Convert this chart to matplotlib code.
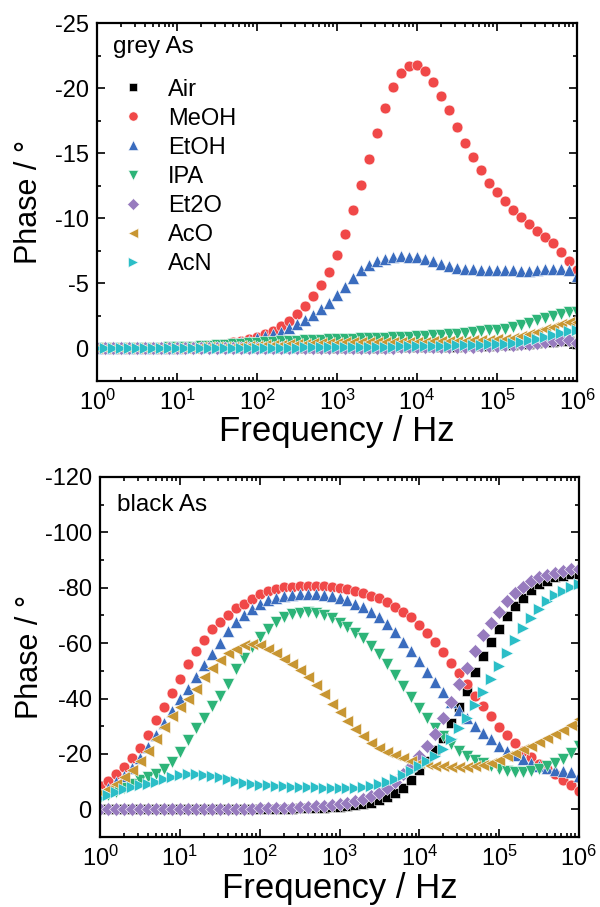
import matplotlib.pyplot as plt
import numpy as np
from matplotlib.ticker import LogLocator, MultipleLocator, NullFormatter

plt.rcParams['font.family'] = ['Liberation Sans', 'DejaVu Sans']
plt.rcParams['axes.unicode_minus'] = False
plt.rcParams['mathtext.fontset'] = 'custom'
plt.rcParams['mathtext.rm'] = 'Liberation Sans'
plt.rcParams['mathtext.default'] = 'regular'

# frequency sweep, 10 points per decade, 1 Hz .. 1 MHz
freq = np.logspace(0, 6, 61)

labels = ['Air', 'MeOH', 'EtOH', 'IPA', 'Et2O', 'AcO', 'AcN']

# grey As: magnitude of phase (deg), plotted as negative phase
grey_air = [0, 0, 0, 0, 0, 0, 0, 0, 0, 0,
            0, 0, 0, 0, 0, 0, 0, 0, 0, 0,
            0, 0, 0, 0, 0, 0.01, 0.01, 0.01, 0.02, 0.02,
            0.02, 0.03, 0.04, 0.05, 0.05, 0.06, 0.07, 0.08, 0.09, 0.1,
            0.1, 0.11, 0.12, 0.13, 0.14, 0.15, 0.16, 0.18, 0.2, 0.22,
            0.24, 0.27, 0.3, 0.34, 0.38, 0.42, 0.47, 0.53, 0.57, 0.55,
            0.38]
grey_meoh = [0.02, 0.02, 0.03, 0.03, 0.03, 0.04, 0.04, 0.05, 0.05, 0.06,
             0.08, 0.1, 0.13, 0.17, 0.22, 0.28, 0.36, 0.46, 0.58, 0.73,
             0.92, 1.12, 1.37, 1.73, 2.14, 2.65, 3.3, 4.0, 4.9, 5.9,
             7.2, 8.8, 10.6, 12.55, 14.55, 16.55, 18.5, 20.1, 21.2, 21.7,
             21.8, 21.3, 20.5, 19.4, 18.3, 17.0, 15.8, 14.7, 13.7, 12.75,
             12.0, 11.3, 10.6, 10.1, 9.6, 9.06, 8.6, 8.1, 7.45, 6.7,
             6.0]
grey_etoh = [0.02, 0.02, 0.02, 0.03, 0.03, 0.03, 0.04, 0.04, 0.05, 0.05,
             0.06, 0.08, 0.1, 0.13, 0.17, 0.22, 0.28, 0.36, 0.47, 0.6,
             0.8, 0.96, 1.12, 1.3, 1.55, 1.86, 2.2, 2.6, 3.0, 3.5,
             4.1, 4.75, 5.4, 6.0, 6.4, 6.7, 6.9, 7.05, 7.1, 7.05,
             7.0, 6.86, 6.7, 6.5, 6.35, 6.2, 6.14, 6.09, 6.04, 6.0,
             6.0, 6.0, 6.0, 5.98, 5.95, 6.05, 6.1, 6.12, 6.1, 6.0,
             5.6]
grey_ipa = [0.02, 0.02, 0.03, 0.03, 0.04, 0.04, 0.05, 0.06, 0.07, 0.08,
            0.1, 0.12, 0.15, 0.18, 0.2, 0.24, 0.28, 0.32, 0.36, 0.4,
            0.44, 0.48, 0.52, 0.55, 0.58, 0.61, 0.64, 0.66, 0.68, 0.7,
            0.72, 0.74, 0.76, 0.78, 0.8, 0.82, 0.84, 0.86, 0.88, 0.9,
            0.93, 0.96, 1.0, 1.04, 1.09, 1.14, 1.2, 1.26, 1.33, 1.4,
            1.45, 1.52, 1.63, 1.78, 1.94, 2.15, 2.35, 2.52, 2.68, 2.78,
            2.8]
grey_et2o = [0, 0, 0, 0, 0, 0, 0, 0, 0, 0,
             0, 0, 0, 0, 0, 0, 0, 0, 0, 0,
             0, 0, 0.01, 0.01, 0.01, 0.02, 0.02, 0.02, 0.03, 0.03,
             0.04, 0.04, 0.05, 0.05, 0.06, 0.06, 0.07, 0.07, 0.08, 0.08,
             0.09, 0.09, 0.1, 0.1, 0.11, 0.12, 0.13, 0.14, 0.16, 0.18,
             0.2, 0.23, 0.27, 0.32, 0.38, 0.45, 0.52, 0.6, 0.65, 0.62,
             0.45]
grey_aco = [0.01, 0.01, 0.01, 0.02, 0.02, 0.02, 0.03, 0.03, 0.04, 0.04,
            0.05, 0.06, 0.07, 0.08, 0.09, 0.1, 0.12, 0.14, 0.16, 0.18,
            0.2, 0.23, 0.27, 0.3, 0.33, 0.35, 0.37, 0.39, 0.41, 0.43,
            0.45, 0.46, 0.47, 0.48, 0.49, 0.5, 0.5, 0.51, 0.51, 0.52,
            0.52, 0.53, 0.54, 0.55, 0.56, 0.58, 0.6, 0.62, 0.65, 0.68,
            0.72, 0.75, 0.82, 0.93, 1.1, 1.28, 1.48, 1.68, 1.86, 2.0,
            2.05]
grey_acn = [0, 0, 0, 0, 0, 0, 0.01, 0.01, 0.01, 0.01,
            0.01, 0.01, 0.02, 0.02, 0.02, 0.03, 0.03, 0.03, 0.04, 0.04,
            0.05, 0.05, 0.06, 0.06, 0.07, 0.07, 0.08, 0.08, 0.09, 0.1,
            0.1, 0.11, 0.11, 0.12, 0.12, 0.13, 0.14, 0.15, 0.16, 0.17,
            0.18, 0.19, 0.2, 0.21, 0.22, 0.23, 0.25, 0.27, 0.29, 0.31,
            0.34, 0.38, 0.44, 0.52, 0.62, 0.74, 0.88, 1.04, 1.2, 1.35,
            1.42]

# black As: magnitude of phase (deg), plotted as negative phase
black_air = [0, 0, 0, 0, 0, 0, 0, 0, 0, 0,
             0, 0, 0, 0, 0, 0, 0, 0, 0, 0,
             0.1, 0.1, 0.15, 0.2, 0.25, 0.3, 0.4, 0.5, 0.6, 0.7,
             0.9, 1.1, 1.4, 1.8, 2.4, 3.2, 4.3, 5.8, 7.8, 10.5,
             14.3, 17.6, 21.4, 25.8, 31.0, 37.0, 42.8, 49.4, 55.4, 60.3,
             65.1, 69.9, 73.3, 76.3, 79.2, 81.2, 82.6, 83.8, 84.4, 84.8,
             85.0]
black_meoh = [8.3, 10.2, 12.6, 15.4, 18.4, 22.2, 26.8, 32.1, 37.0, 42.0,
              47.0, 52.5, 57.0, 61.1, 65.0, 67.5, 70.2, 72.8, 74.2, 76.0,
              77.6, 78.9, 79.6, 80.2, 80.4, 80.6, 80.7, 80.7, 80.5, 80.2,
              79.9, 79.4, 78.7, 78.0, 77.2, 76.2, 74.8, 73.2, 71.4, 69.3,
              66.5, 63.6, 60.5, 56.9, 53.0, 49.1, 45.2, 40.9, 37.3, 33.6,
              29.8, 26.8, 24.0, 21.0, 18.8, 16.4, 14.5, 12.8, 10.6, 8.7,
              6.5]
black_etoh = [6.0, 7.8, 9.8, 12.2, 15.0, 18.4, 22.4, 26.8, 31.2, 35.6,
              39.8, 43.6, 47.6, 52.0, 56.0, 60.2, 64.5, 67.5, 70.0, 72.2,
              74.0, 75.4, 76.3, 76.9, 77.4, 77.8, 77.8, 77.8, 77.4, 76.9,
              76.2, 75.4, 74.2, 72.9, 71.4, 69.3, 66.9, 63.9, 60.5, 57.2,
              53.6, 49.6, 46.0, 42.4, 38.8, 36.0, 33.0, 30.0, 27.5, 25.3,
              23.0, 21.0, 19.5, 18.0, 16.8, 15.7, 14.8, 14.2, 13.9, 13.4,
              12.0]
black_ipa = [4.0, 5.2, 6.4, 7.8, 9.2, 10.5, 11.6, 12.8, 14.5, 17.2,
             20.8, 25.0, 29.2, 33.1, 37.3, 40.8, 45.4, 50.5, 54.5, 58.5,
             62.1, 65.1, 67.5, 69.3, 70.4, 71.0, 71.1, 70.8, 70.0, 68.9,
             67.4, 65.7, 63.8, 61.8, 59.1, 56.0, 52.4, 48.5, 44.6, 40.5,
             36.7, 33.0, 29.5, 26.4, 23.6, 21.2, 19.3, 17.9, 16.7, 15.6,
             14.6, 14.0, 13.6, 13.5, 13.8, 14.5, 15.5, 16.7, 18.3, 20.5,
             22.8]
black_et2o = [0.2, 0.2, 0.2, 0.2, 0.2, 0.2, 0.2, 0.2, 0.2, 0.2,
              0.2, 0.2, 0.2, 0.2, 0.2, 0.2, 0.25, 0.25, 0.25, 0.25,
              0.3, 0.35, 0.4, 0.5, 0.6, 0.75, 0.9, 1.1, 1.3, 1.6,
              1.9, 2.3, 2.9, 3.6, 4.7, 6.0, 7.7, 9.8, 12.6, 15.8,
              19.2, 23.0, 27.2, 32.8, 38.9, 45.4, 51.2, 57.2, 63.0, 67.3,
              71.1, 75.1, 78.0, 80.4, 82.4, 83.8, 84.7, 85.5, 86.1, 86.6,
              86.8]
black_aco = [5.8, 7.4, 9.2, 11.5, 14.2, 17.5, 21.2, 25.5, 29.8, 33.6,
             36.8, 40.0, 43.5, 47.6, 51.2, 53.9, 56.3, 57.9, 59.2, 59.8,
             59.3, 58.0, 56.3, 54.4, 52.4, 50.2, 47.7, 44.9, 41.8, 38.2,
             35.0, 31.8, 28.9, 26.3, 24.0, 22.1, 20.7, 19.5, 18.4, 17.4,
             16.7, 16.2, 15.8, 15.6, 15.4, 15.4, 15.4, 15.5, 15.9, 16.8,
             17.9, 19.2, 20.5, 21.9, 23.0, 24.4, 25.8, 27.2, 28.8, 30.5,
             32.5]
black_acn = [4.0, 5.2, 6.3, 7.2, 8.0, 8.7, 9.3, 10.0, 10.8, 11.6,
             12.3, 12.6, 12.7, 12.5, 12.1, 11.5, 10.9, 10.2, 9.6, 9.1,
             8.8, 8.6, 8.4, 8.3, 8.2, 8.1, 8.0, 7.9, 7.8, 7.7,
             7.7, 7.7, 7.8, 8.0, 8.4, 9.0, 9.9, 11.0, 12.4, 14.0,
             15.8, 17.6, 19.4, 21.8, 25.3, 29.2, 33.1, 37.5, 42.2, 47.0,
             51.8, 56.5, 61.0, 65.3, 69.0, 72.5, 75.2, 77.5, 79.0, 80.4,
             81.3]

grey = [grey_air, grey_meoh, grey_etoh, grey_ipa, grey_et2o, grey_aco, grey_acn]
black = [black_air, black_meoh, black_etoh, black_ipa, black_et2o, black_aco, black_acn]

colors = ['#000000', '#F04848', '#3A6CBE', '#2DB478', '#977BBE', '#C89632', '#2BBEC7']
markers = ['s', 'o', '^', 'v', 'D', '<', '>']
msizes = [7.0, 7.8, 9.0, 9.0, 6.8, 9.0, 9.0]

fig = plt.figure(figsize=(6, 9.07), dpi=100)
ax1 = fig.add_axes([0.1617, 0.5799, 0.8, 0.3947])
ax2 = fig.add_axes([0.1667, 0.0772, 0.7983, 0.3969])


def draw(ax, data):
    for vals, lab, c, m, ms in zip(data, labels, colors, markers, msizes):
        ax.plot(freq, -np.array(vals), linestyle='none', marker=m, ms=ms,
                color=c, mec='white', mew=0.4, label=lab)
    ax.set_xscale('log')
    ax.set_xlim(1, 1e6)
    ax.xaxis.set_major_locator(LogLocator(base=10, numticks=10))
    ax.xaxis.set_minor_locator(LogLocator(base=10, subs=np.arange(2, 10), numticks=100))
    ax.xaxis.set_minor_formatter(NullFormatter())
    ax.tick_params(which='both', direction='in', top=True, right=True,
                   width=1.2, labelsize=17, pad=6)
    ax.tick_params(which='major', length=6)
    ax.tick_params(which='minor', length=3)
    for s in ax.spines.values():
        s.set_linewidth(1.6)
    ax.set_xlabel('Frequency / Hz', fontsize=25)
    ax.set_ylabel('Phase / °', fontsize=22)


draw(ax1, grey)
ax1.set_ylim(2.5, -25)
ax1.yaxis.set_major_locator(MultipleLocator(5))
ax1.yaxis.set_minor_locator(MultipleLocator(2.5))
ax1.yaxis.set_label_coords(-0.11, 0.5)
ax1.xaxis.set_label_coords(0.5, -0.095)
ax1.text(0.033, 0.933, 'grey As', transform=ax1.transAxes, fontsize=17.5, va='center')
ax1.legend(loc='upper left', bbox_to_anchor=(0.05, 0.845), frameon=False, fontsize=17,
           handlelength=1.0, handletextpad=1.0, labelspacing=0.3, borderpad=0,
           borderaxespad=0, numpoints=1, markerscale=0.85)

draw(ax2, black)
ax2.set_ylim(10, -120)
ax2.yaxis.set_major_locator(MultipleLocator(20))
ax2.yaxis.set_minor_locator(MultipleLocator(10))
ax2.yaxis.set_label_coords(-0.115, 0.5)
ax2.xaxis.set_label_coords(0.5, -0.097)
ax2.text(0.0355, 0.922, 'black As', transform=ax2.transAxes, fontsize=17.5, va='center')

fig.savefig('out.png', dpi=100)
plt.close()
